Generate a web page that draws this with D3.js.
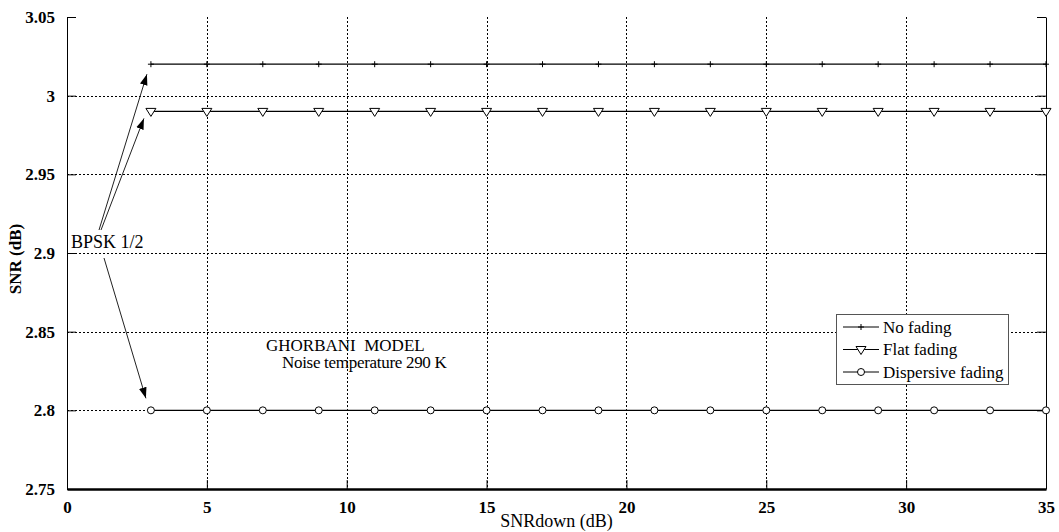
<!DOCTYPE html>
<html>
<head>
<meta charset="utf-8">
<script src="https://cdn.jsdelivr.net/npm/d3@7"></script>
<style>
  html, body { margin: 0; padding: 0; background: #fff; }
  svg { display: block; }
</style>
</head>
<body>
<svg id="chart" width="1059" height="532"></svg>
<script>
// SNR down-link values (dB) at which each curve is sampled
const snrDown = [3, 5, 7, 9, 11, 13, 15, 17, 19, 21, 23, 25, 27, 29, 31, 33, 35];
// Required SNR (dB) for BPSK 1/2 under each channel condition
const noFading       = [3.02, 3.02, 3.02, 3.02, 3.02, 3.02, 3.02, 3.02, 3.02, 3.02, 3.02, 3.02, 3.02, 3.02, 3.02, 3.02, 3.02];
const flatFading     = [2.99, 2.99, 2.99, 2.99, 2.99, 2.99, 2.99, 2.99, 2.99, 2.99, 2.99, 2.99, 2.99, 2.99, 2.99, 2.99, 2.99];
const dispFading     = [2.80, 2.80, 2.80, 2.80, 2.80, 2.80, 2.80, 2.80, 2.80, 2.80, 2.80, 2.80, 2.80, 2.80, 2.80, 2.80, 2.80];
const seriesNames    = ["No fading", "Flat fading", "Dispersive fading"];
const markerKinds    = ["plus", "triangleDown", "circle"];
const xTicks = [0, 5, 10, 15, 20, 25, 30, 35];
const yTicks = [2.75, 2.8, 2.85, 2.9, 2.95, 3, 3.05];

const SERIF = "'Liberation Serif', 'Times New Roman', serif";

const svg = d3.select("#chart");
const plot = { left: 67, right: 1046, top: 17, bottom: 489 };

const x = d3.scaleLinear().domain([0, 35]).range([plot.left, plot.right]);
const y = d3.scaleLinear().domain([2.75, 3.05]).range([plot.bottom, plot.top]);

// dotted grid
const grid = svg.append("g");
grid.selectAll("line.gx").data(xTicks.filter(t => t > 0 && t < 35)).join("line")
  .attr("x1", d => Math.round(x(d)) + 0.5).attr("x2", d => Math.round(x(d)) + 0.5)
  .attr("y1", plot.top).attr("y2", plot.bottom)
  .attr("stroke", "#000").attr("stroke-width", 1).attr("stroke-dasharray", "2,2");
grid.selectAll("line.gy").data(yTicks.filter(t => t > 2.76 && t < 3.04)).join("line")
  .attr("x1", plot.left).attr("x2", plot.right)
  .attr("y1", d => Math.round(y(d)) + 0.5).attr("y2", d => Math.round(y(d)) + 0.5)
  .attr("stroke", "#000").attr("stroke-width", 1).attr("stroke-dasharray", "2,2");

// axes with inward ticks
const xAxis = d3.axisBottom(x).tickValues(xTicks).tickSizeInner(-9).tickSizeOuter(0).tickPadding(12)
  .tickFormat(d3.format("d"));
const gx = svg.append("g").attr("transform", `translate(0,${plot.bottom})`).call(xAxis);
gx.select(".domain").attr("stroke-width", 2.5);

const yAxis = d3.axisLeft(y).tickValues(yTicks).tickSizeInner(-9).tickSizeOuter(0).tickPadding(12)
  .tickFormat(d => d3.format("")(+d.toFixed(2)));
const gy = svg.append("g").attr("transform", `translate(${plot.left},0)`).call(yAxis);

[gx, gy].forEach(g => g.selectAll("text")
  .style("font-family", SERIF).style("font-size", "17px").style("font-weight", "bold")
  .attr("fill", "#000"));

const yAxisR = d3.axisRight(y).tickValues(yTicks).tickSizeInner(-9).tickSizeOuter(0).tickFormat("");
svg.append("g").attr("transform", `translate(${plot.right},0)`).call(yAxisR);

svg.selectAll(".tick line").attr("stroke", "#000");
svg.selectAll(".domain").attr("stroke", "#000");

function label(px, py, str, size, weight) {
  return svg.append("text").attr("x", px).attr("y", py)
    .style("font-family", SERIF).style("font-size", size + "px")
    .style("font-weight", weight || "normal").attr("fill", "#000").text(str);
}

// axis titles
label((plot.left + plot.right) / 2, 527, "SNRdown (dB)", 18).attr("text-anchor", "middle");
svg.append("text").attr("transform", "translate(21,259) rotate(-90)")
  .attr("text-anchor", "middle").style("font-family", SERIF).style("font-size", "17px")
  .style("font-weight", "bold").text("SNR (dB)");

// series
const series = [noFading, flatFading, dispFading];
const line = d3.line().x((d, i) => x(snrDown[i])).y(d => y(d));

function drawMarker(g, kind, cx, cy) {
  if (kind === "plus") {
    g.append("path").attr("d", `M${cx - 3},${cy}H${cx + 3}M${cx},${cy - 3}V${cy + 3}`)
      .attr("stroke", "#000").attr("stroke-width", 1).attr("fill", "none");
  } else if (kind === "triangleDown") {
    g.append("path").attr("d", `M${cx - 5},${cy - 3}L${cx + 5},${cy - 3}L${cx},${cy + 5}Z`)
      .attr("stroke", "#000").attr("stroke-width", 1).attr("fill", "#fff");
  } else {
    g.append("circle").attr("cx", cx).attr("cy", cy).attr("r", 3.5)
      .attr("stroke", "#000").attr("stroke-width", 1).attr("fill", "#fff");
  }
}

series.forEach((vals, s) => {
  const g = svg.append("g");
  g.append("path").datum(vals).attr("d", line)
    .attr("fill", "none").attr("stroke", "#000").attr("stroke-width", 1.2);
  vals.forEach((v, i) => drawMarker(g, markerKinds[s], x(snrDown[i]), y(v)));
});

// legend
const lg = svg.append("g");
lg.append("rect").attr("x", 836.5).attr("y", 314.5).attr("width", 172).attr("height", 70)
  .attr("fill", "#fff").attr("stroke", "#555").attr("stroke-width", 1);
seriesNames.forEach((name, i) => {
  const ly = 327 + i * 22.5;
  lg.append("line").attr("x1", 843).attr("x2", 879).attr("y1", ly).attr("y2", ly)
    .attr("stroke", "#000").attr("stroke-width", 1);
  drawMarker(lg, markerKinds[i], 861, ly);
  lg.append("text").attr("x", 883).attr("y", ly + 5.5)
    .style("font-family", SERIF).style("font-size", "17px").attr("fill", "#000").text(name);
});

// annotations
svg.append("defs").append("marker").attr("id", "head")
  .attr("viewBox", "0 0 10 10").attr("refX", 10).attr("refY", 5)
  .attr("markerWidth", 11).attr("markerHeight", 11).attr("markerUnits", "userSpaceOnUse")
  .attr("orient", "auto")
  .append("path").attr("d", "M0,1.5L10,5L0,8.5Z").attr("fill", "#000");

const arrows = [
  { from: [99, 230], to: [x(snrDown[0]) - 4, y(noFading[0]) + 10] },
  { from: [101, 230], to: [x(snrDown[0]) - 7, y(flatFading[0]) + 7] },
  { from: [104, 258], to: [x(snrDown[0]) - 5, y(dispFading[0]) - 12] }
];
arrows.forEach(a => {
  svg.append("line").attr("x1", a.from[0]).attr("y1", a.from[1])
    .attr("x2", a.to[0]).attr("y2", a.to[1])
    .attr("stroke", "#222").attr("stroke-width", 1).attr("marker-end", "url(#head)");
});

label(71, 248, "BPSK 1/2", 18);
label(266, 351, "GHORBANI  MODEL", 17).style("white-space", "pre");
label(282, 368, "Noise temperature 290 K", 17).style("letter-spacing", "-0.3px");
</script>
</body>
</html>
